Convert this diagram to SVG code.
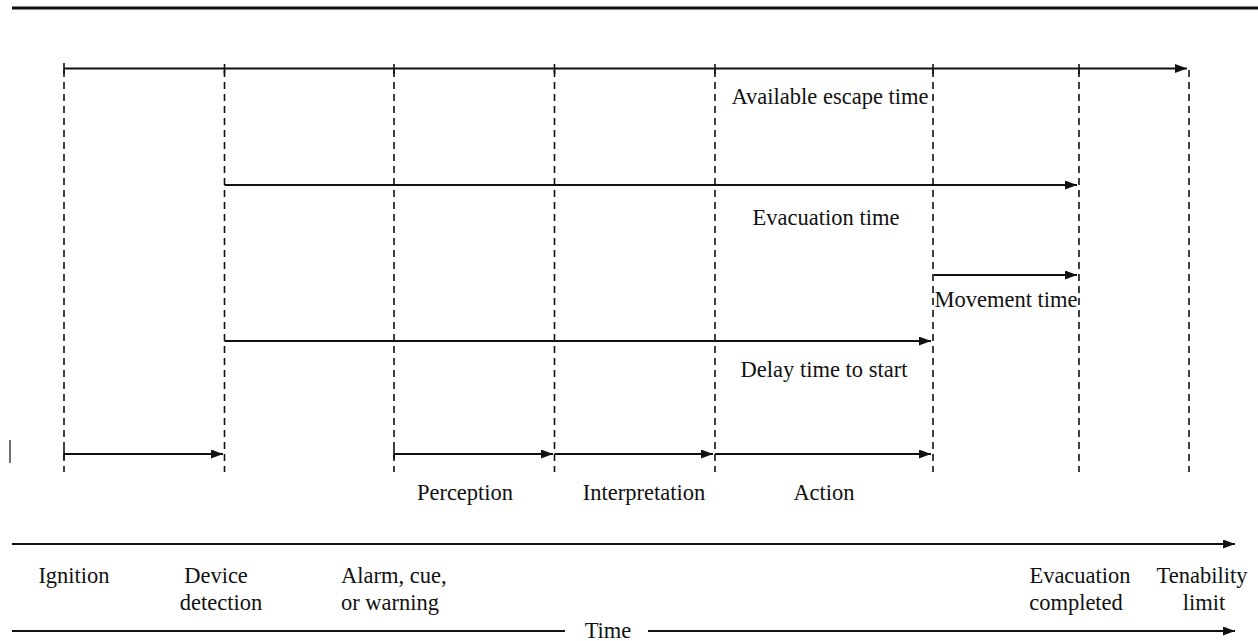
<svg xmlns="http://www.w3.org/2000/svg" width="1258" height="641" viewBox="0 0 1258 641">
<style>
.dash{stroke:#111;stroke-width:1.6;stroke-dasharray:7,5;fill:none}
.arr{stroke:#111;stroke-width:2;fill:none}
.tick{stroke:#111;stroke-width:1.6}
</style>
<defs>
<marker id="ah" viewBox="0 0 10 10" refX="10" refY="5" markerWidth="12" markerHeight="9" markerUnits="userSpaceOnUse" orient="auto" preserveAspectRatio="none">
<path d="M0,0 L10,5 L0,10 z" fill="#111"/>
</marker>
</defs>
<line x1="12" y1="8" x2="1258" y2="8" stroke="#111" stroke-width="3"/>
<line x1="10" y1="440" x2="10" y2="463" stroke="#111" stroke-width="1.2"/>
<g id="dashed-lines">
<line class="dash" x1="64" y1="70" x2="64" y2="472"/>
<line class="dash" x1="224.5" y1="70" x2="224.5" y2="472"/>
<line class="dash" x1="394" y1="70" x2="394" y2="472"/>
<line class="dash" x1="554.5" y1="70" x2="554.5" y2="472"/>
<line class="dash" x1="715" y1="70" x2="715" y2="472"/>
<line class="dash" x1="933" y1="70" x2="933" y2="472"/>
<line class="dash" x1="1079" y1="70" x2="1079" y2="472"/>
<line class="dash" x1="1189" y1="70" x2="1189" y2="472"/>
</g>
<g id="connectors">
<line class="arr" x1="64" y1="68.5" x2="1187" y2="68.5" marker-end="url(#ah)"/>
<line class="tick" x1="64" y1="63" x2="64" y2="74"/>
<line class="tick" x1="224.5" y1="64" x2="224.5" y2="74"/>
<line class="tick" x1="394" y1="64" x2="394" y2="74"/>
<line class="tick" x1="554.5" y1="64" x2="554.5" y2="74"/>
<line class="tick" x1="715" y1="64" x2="715" y2="74"/>
<line class="tick" x1="933" y1="64" x2="933" y2="74"/>
<line class="tick" x1="1079" y1="64" x2="1079" y2="74"/>
<line class="arr" x1="224.5" y1="185" x2="1077" y2="185" marker-end="url(#ah)"/>
<line class="arr" x1="934" y1="275" x2="1077" y2="275" marker-end="url(#ah)"/>
<line class="arr" x1="224.5" y1="341" x2="931" y2="341" marker-end="url(#ah)"/>
<line class="arr" x1="64" y1="454" x2="223" y2="454" marker-end="url(#ah)"/>
<line class="tick" x1="64" y1="449" x2="64" y2="459"/>
<line class="arr" x1="394" y1="454" x2="553" y2="454" marker-end="url(#ah)"/>
<line class="tick" x1="394" y1="449" x2="394" y2="459"/>
<line class="arr" x1="554.5" y1="454" x2="713" y2="454" marker-end="url(#ah)"/>
<line class="arr" x1="715" y1="454" x2="931" y2="454" marker-end="url(#ah)"/>
<line class="arr" x1="12" y1="544" x2="1235" y2="544" marker-end="url(#ah)"/>
<line class="arr" x1="12" y1="631" x2="565" y2="631"/>
<line class="arr" x1="648" y1="631" x2="1235" y2="631" marker-end="url(#ah)"/>
</g>
<g id="labels" fill="#111" font-size="22.5">
<text style="font-family:'Liberation Serif',serif" x="830" y="104" text-anchor="middle">Available escape time</text>
<text style="font-family:'Liberation Serif',serif" x="826" y="225" text-anchor="middle">Evacuation time</text>
<text style="font-family:'Liberation Serif',serif" x="1006" y="307" text-anchor="middle">Movement time</text>
<text style="font-family:'Liberation Serif',serif" x="824" y="377" text-anchor="middle">Delay time to start</text>
<text style="font-family:'Liberation Serif',serif" x="465" y="500" text-anchor="middle">Perception</text>
<text style="font-family:'Liberation Serif',serif" x="644" y="500" text-anchor="middle">Interpretation</text>
<text style="font-family:'Liberation Serif',serif" x="824" y="500" text-anchor="middle">Action</text>
<text style="font-family:'Liberation Serif',serif" x="74" y="583" text-anchor="middle">Ignition</text>
<text style="font-family:'Liberation Serif',serif" x="216" y="583" text-anchor="middle">Device</text>
<text style="font-family:'Liberation Serif',serif" x="221" y="610" text-anchor="middle">detection</text>
<text style="font-family:'Liberation Serif',serif" x="341" y="583">Alarm, cue,</text>
<text style="font-family:'Liberation Serif',serif" x="341" y="610">or warning</text>
<text style="font-family:'Liberation Serif',serif" x="1080" y="583" text-anchor="middle">Evacuation</text>
<text style="font-family:'Liberation Serif',serif" x="1076" y="610" text-anchor="middle">completed</text>
<text style="font-family:'Liberation Serif',serif" x="1202" y="583" text-anchor="middle">Tenability</text>
<text style="font-family:'Liberation Serif',serif" x="1204" y="610" text-anchor="middle">limit</text>
<text style="font-family:'Liberation Serif',serif" x="608" y="638" text-anchor="middle">Time</text>
</g>
</svg>
